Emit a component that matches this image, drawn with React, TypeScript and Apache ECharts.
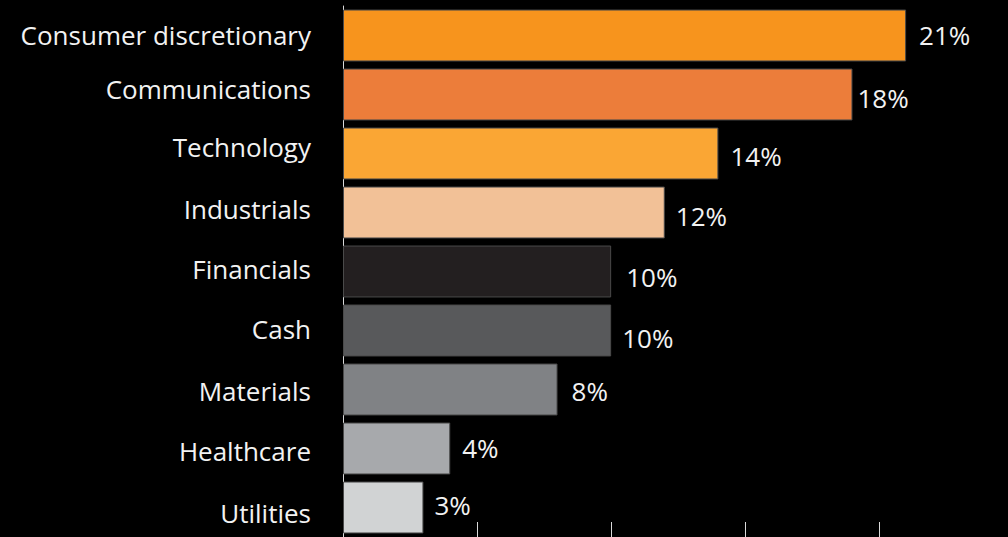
import React, { useEffect, useRef } from "react";
import * as echarts from "echarts";

const categories = [
  "Consumer discretionary",
  "Communications",
  "Technology",
  "Industrials",
  "Financials",
  "Cash",
  "Materials",
  "Healthcare",
  "Utilities",
];
const values = [21, 19, 14, 12, 10, 10, 8, 4, 3];
const valueLabels = ["21%", "18%", "14%", "12%", "10%", "10%", "8%", "4%", "3%"];
const barColors = [
  "#F7941D",
  "#EC7D3A",
  "#FAA634",
  "#F2C197",
  "#231F20",
  "#58595B",
  "#808285",
  "#A7A9AC",
  "#D1D3D4",
];
// style tweaks (label placement)
const labelDistances = [13, 5, 12, 11, 15, 11, 14, 12, 11];
const valueLabelShiftY = [-1, 3, 2, 3, 5, 7, 1, -1, -3];
const categoryLabelShiftY = [-1, -6, -7, -4, -3, -2, 1, 2, 5];

export default function App() {
  const ref = useRef<HTMLDivElement>(null);
  useEffect(() => {
    document.body.style.margin = "0";
    document.body.style.background = "#000";
    const chart = echarts.init(ref.current!, undefined, { renderer: "svg" });
    const rich: Record<string, any> = {};
    categoryLabelShiftY.forEach((d, i) => {
      rich["c" + i] = {
        color: "#F2F2F2",
        fontFamily: "Open Sans",
        fontSize: 26,
        padding: d < 0 ? [0, 0, -2 * d, 0] : [2 * d, 0, 0, 0],
      };
    });
    chart.setOption({
      animation: false,
      backgroundColor: "#000000",
      grid: { left: 343, right: 0, top: 6, bottom: -4, containLabel: false },
      xAxis: {
        type: "value",
        min: 0,
        max: 24.8,
        interval: 5,
        axisLine: { show: true, lineStyle: { color: "#D9D9D9", width: 1 } },
        axisTick: { show: true, inside: true, length: 15, lineStyle: { color: "#D9D9D9", width: 1 } },
        axisLabel: { show: false },
        splitLine: { show: false },
      },
      yAxis: {
        type: "category",
        inverse: true,
        data: categories,
        axisLine: { show: true, lineStyle: { color: "#D9D9D9", width: 1 } },
        axisTick: { show: false },
        axisLabel: {
          color: "#F2F2F2",
          fontFamily: "Open Sans",
          fontSize: 26,
          margin: 32,
          formatter: (v: string, i: number) => `{c${i}|${v}}`,
          rich,
        },
      },
      series: [
        {
          type: "bar",
          barCategoryGap: "12%",
          data: values.map((v, i) => ({
            value: v,
            itemStyle: { color: barColors[i], borderColor: "#4a4a4a", borderWidth: 1 },
            label: { distance: labelDistances[i], offset: [0, valueLabelShiftY[i]] },
          })),
          label: {
            show: true,
            position: "right",
            color: "#F2F2F2",
            fontFamily: "Open Sans",
            fontSize: 26,
            formatter: (p: any) => valueLabels[p.dataIndex],
          },
        },
      ],
    });
    return () => chart.dispose();
  }, []);
  return <div ref={ref} style={{ width: 1008, height: 537 }} />;
}
